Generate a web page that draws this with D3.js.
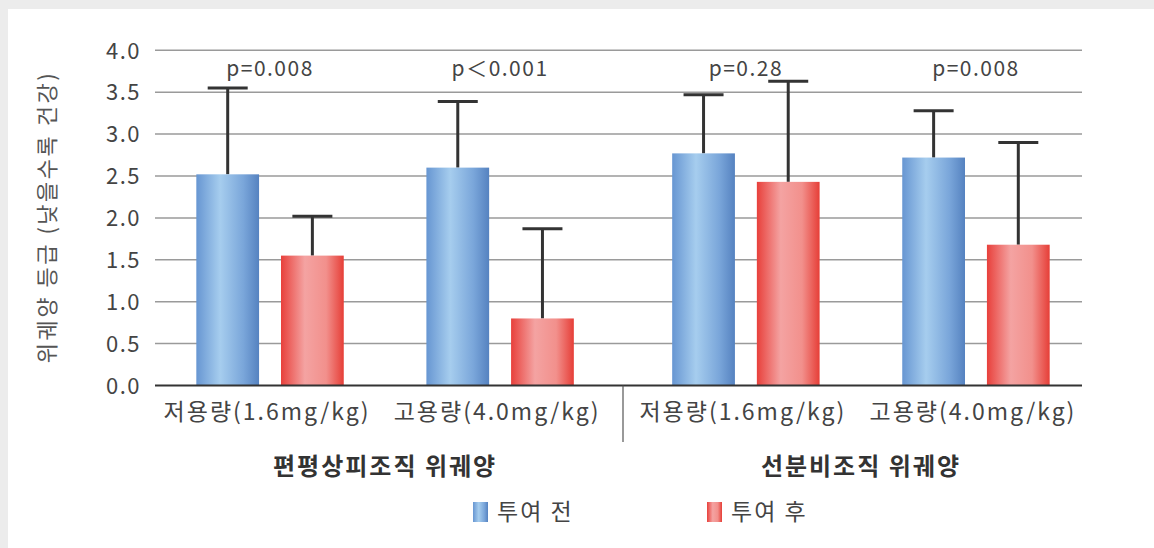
<!DOCTYPE html>
<html><head><meta charset="utf-8">
<script src="https://cdn.jsdelivr.net/npm/d3@7"></script>
<style>html,body{margin:0;padding:0;background:#ececec;}svg{display:block;}</style>
</head><body>
<svg id="chart" width="1154" height="548"></svg>
<script>
// ---- data ----
const tissues = ["편평상피조직 위궤양", "선분비조직 위궤양"];
const doses = ["저용량(1.6mg/kg)", "고용량(4.0mg/kg)"];
const seriesNames = ["투여 전", "투여 후"];
const beforeMean = [2.52, 2.60, 2.77, 2.72];
const beforeSD   = [1.03, 0.79, 0.70, 0.56];
const afterMean  = [1.55, 0.80, 2.43, 1.68];
const afterSD    = [0.47, 1.07, 1.20, 1.22];
const pValues = ["p=0.008", "p＜0.001", "p=0.28", "p=0.008"];
const yTicks = [0, 0.5, 1, 1.5, 2, 2.5, 3, 3.5, 4];
const yTitle = "위궤양 등급 (낮을수록 건강)";

const svg = d3.select("#chart");
const font = "'Noto Sans CJK KR','Noto Sans',sans-serif";

// background panel
svg.append("rect").attr("x", 8).attr("y", 9).attr("width", 1146).attr("height", 539).attr("fill", "#fff");

// gradients
const defs = svg.append("defs");
function grad(id, stops) {
  const g = defs.append("linearGradient").attr("id", id).attr("x1", "0%").attr("x2", "100%").attr("y1", "0%").attr("y2", "0%");
  stops.forEach(s => g.append("stop").attr("offset", s[0]).attr("stop-color", s[1]));
}
grad("gBlue", [["0%", "#6796d2"], ["38%", "#a6cdee"], ["75%", "#7aa6da"], ["100%", "#5582c0"]]);
grad("gRed", [["0%", "#e8403b"], ["38%", "#f4a3a2"], ["72%", "#f2908c"], ["100%", "#e63e37"]]);

// scales
const y = d3.scaleLinear().domain([0, 4]).range([385.5, 50.3]);
const x0 = d3.scaleBand().domain(tissues).range([155, 1091]).paddingInner(0.033);
const x1 = d3.scaleBand().domain(doses).range([0, x0.bandwidth()]);
const x2 = d3.scaleBand().domain(seriesNames).range([0, x1.bandwidth()]).paddingInner(0.259).paddingOuter(0.488);

const gridX0 = 155, gridX1 = 1082;

// gridlines
svg.append("g").selectAll("line").data(yTicks.filter(t => t > 0)).join("line")
  .attr("x1", gridX0).attr("x2", gridX1)
  .attr("y1", d => y(d)).attr("y2", d => y(d))
  .attr("stroke", "#9a9a9a").attr("stroke-width", 1.5);

// y axis labels
const yAxis = d3.axisLeft(y).tickValues(yTicks).tickFormat(d3.format(".1f")).tickSize(0).tickPadding(0);
const yg = svg.append("g").attr("transform", "translate(141,0)").call(yAxis);
yg.select(".domain").remove();
yg.selectAll("text").attr("font-family", font).attr("font-size", 22).attr("fill", "#444").attr("letter-spacing", 1.5).attr("dy", "0.35em");

// y title
svg.append("text").attr("transform", "translate(55,217) rotate(-90)")
  .attr("text-anchor", "middle").attr("font-family", font).attr("font-size", 22).attr("fill", "#555")
  .attr("letter-spacing", 2.5)
  .text(yTitle);

// flatten groups
const groups = [];
tissues.forEach((t, ti) => doses.forEach((d, di) => groups.push({t, d, i: ti * 2 + di})));
const gx = g => x0(g.t) + x1(g.d);

const bars = [];
groups.forEach(g => {
  bars.push({g, s: seriesNames[0], m: beforeMean[g.i], sd: beforeSD[g.i], fill: "url(#gBlue)"});
  bars.push({g, s: seriesNames[1], m: afterMean[g.i], sd: afterSD[g.i], fill: "url(#gRed)"});
});

// error bars
const eb = svg.append("g").attr("stroke", "#333").attr("stroke-width", 3);
eb.selectAll("line.v").data(bars).join("line").attr("class", "v")
  .attr("x1", d => gx(d.g) + x2(d.s) + x2.bandwidth() / 2).attr("x2", d => gx(d.g) + x2(d.s) + x2.bandwidth() / 2)
  .attr("y1", d => y(d.m)).attr("y2", d => y(d.m + d.sd));
eb.selectAll("line.c").data(bars).join("line").attr("class", "c")
  .attr("x1", d => gx(d.g) + x2(d.s) + x2.bandwidth() / 2 - 20).attr("x2", d => gx(d.g) + x2(d.s) + x2.bandwidth() / 2 + 20)
  .attr("y1", d => y(d.m + d.sd)).attr("y2", d => y(d.m + d.sd));

// bars
svg.append("g").selectAll("rect").data(bars).join("rect")
  .attr("x", d => gx(d.g) + x2(d.s)).attr("width", x2.bandwidth())
  .attr("y", d => y(d.m)).attr("height", d => y(0) - y(d.m))
  .attr("fill", d => d.fill);

// baseline
svg.append("line").attr("x1", gridX0).attr("x2", gridX1).attr("y1", y(0)).attr("y2", y(0))
  .attr("stroke", "#333").attr("stroke-width", 2.2);

// p values
svg.append("g").selectAll("text").data(groups).join("text")
  .attr("x", d => gx(d) + x1.bandwidth() / 2).attr("y", 76)
  .attr("text-anchor", "middle").attr("font-family", font).attr("font-size", 21).attr("fill", "#444")
  .attr("letter-spacing", 1.5)
  .text(d => pValues[d.i]);

// dose labels
svg.append("g").selectAll("text").data(groups).join("text")
  .attr("x", d => gx(d) + x1.bandwidth() / 2 - 3).attr("y", 420)
  .attr("text-anchor", "middle").attr("font-family", font).attr("font-size", 23).attr("fill", "#444")
  .attr("letter-spacing", 2)
  .text(d => d.d);

// divider
const divX = (x0(tissues[0]) + x0.bandwidth() + x0(tissues[1])) / 2;
svg.append("line").attr("x1", divX).attr("x2", divX).attr("y1", y(0)).attr("y2", 442)
  .attr("stroke", "#555").attr("stroke-width", 1.2);

// tissue labels
svg.append("g").selectAll("text").data(tissues).join("text")
  .attr("x", d => x0(d) + x0.bandwidth() / 2).attr("y", 475)
  .attr("text-anchor", "middle").attr("font-family", font).attr("font-size", 24).attr("font-weight", "bold").attr("fill", "#333")
  .attr("letter-spacing", 2)
  .text(d => d);

// legend
const legX = d3.scalePoint().domain(seriesNames).range([473, 707]);
const lg = svg.append("g").selectAll("g").data(seriesNames).join("g")
  .attr("transform", d => `translate(${legX(d)},502)`);
lg.append("rect").attr("width", 15).attr("height", 20).attr("fill", (d, i) => i === 0 ? "url(#gBlue)" : "url(#gRed)");
lg.append("text").attr("x", 24).attr("y", 18).attr("font-family", font).attr("font-size", 23).attr("fill", "#444")
  .attr("letter-spacing", 2)
  .text(d => d);
</script>
</body></html>
